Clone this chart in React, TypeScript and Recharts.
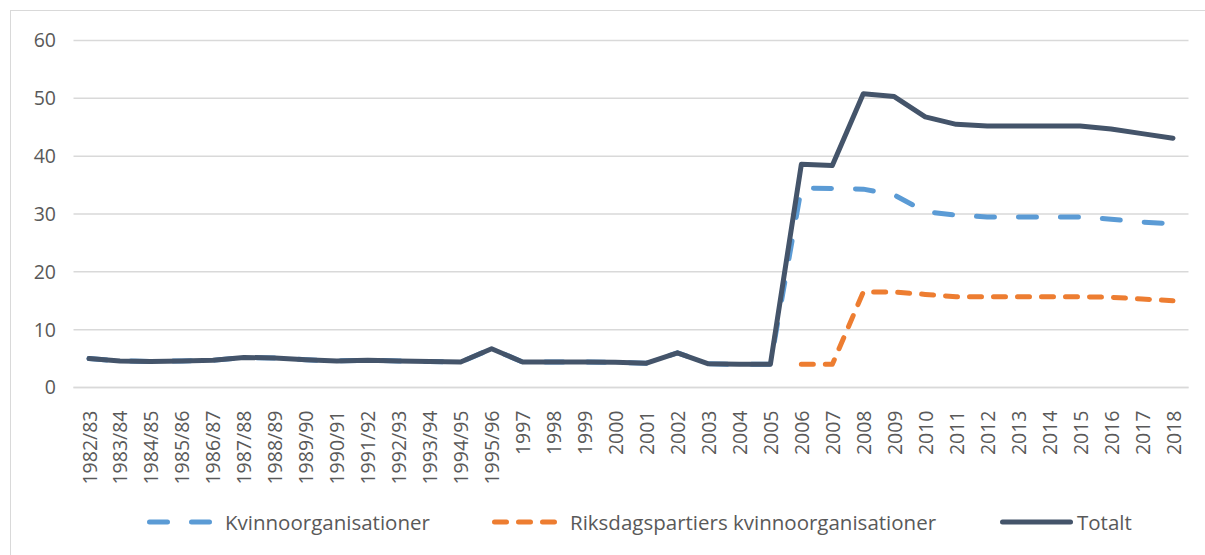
import { LineChart, Line, XAxis, YAxis, CartesianGrid } from "recharts";

const years = [
  "1982/83", "1983/84", "1984/85", "1985/86", "1986/87", "1987/88", "1988/89",
  "1989/90", "1990/91", "1991/92", "1992/93", "1993/94", "1994/95", "1995/96",
  "1997", "1998", "1999", "2000", "2001", "2002", "2003", "2004", "2005",
  "2006", "2007", "2008", "2009", "2010", "2011", "2012", "2013", "2014",
  "2015", "2016", "2017", "2018",
];

const totalt = [
  5.0, 4.6, 4.5, 4.6, 4.7, 5.2, 5.1, 4.8, 4.6, 4.7, 4.6, 4.5, 4.4, 6.7,
  4.4, 4.4, 4.4, 4.35, 4.2, 6.0, 4.1, 4.0, 4.0,
  38.6, 38.4, 50.8, 50.3, 46.8, 45.5, 45.2, 45.2, 45.2, 45.2, 44.7, 43.9, 43.1,
];

const kvinnoorg = [
  5.0, 4.6, 4.5, 4.6, 4.7, 5.2, 5.1, 4.8, 4.6, 4.7, 4.6, 4.5, 4.4, 6.7,
  4.4, 4.4, 4.4, 4.35, 4.2, 6.0, 4.1, 4.0, 4.0,
  34.5, 34.4, 34.3, 33.3, 30.4, 29.8, 29.5, 29.5, 29.5, 29.5, 29.1, 28.6, 28.3,
];

const riksdag: (number | null)[] = [
  null, null, null, null, null, null, null, null, null, null, null, null, null, null,
  null, null, null, null, null, null, null, null, null,
  4.0, 4.0, 16.5, 16.5, 16.1, 15.7, 15.7, 15.7, 15.7, 15.7, 15.6, 15.3, 15.0,
];

const yTicks = [0, 10, 20, 30, 40, 50, 60];

const data = years.map((year, i) => ({
  year,
  kvinno: kvinnoorg[i],
  riksdag: riksdag[i],
  totalt: totalt[i],
}));

const FONT = "'Open Sans', sans-serif";
const TEXT = "#595959";
const GRID = "#D9D9D9";

const BLUE = "#5B9BD5";
const ORANGE = "#ED7D31";
const NAVY = "#44546A";

function YearTick(props: any) {
  const { x, y, payload } = props;
  return (
    <text
      x={x}
      y={y + 15}
      transform={`rotate(-90, ${x}, ${y + 15})`}
      textAnchor="end"
      dominantBaseline="central"
      fill={TEXT}
      fontSize={19.5}
      fontFamily={FONT}
    >
      {payload.value}
    </text>
  );
}

const legendItems = [
  { label: "Kvinnoorganisationer", color: BLUE, dash: "18 24", left: 147, iconW: 66 },
  { label: "Riksdagspartiers kvinnoorganisationer", color: ORANGE, dash: "12 12", left: 492, iconW: 66 },
  { label: "Totalt", color: NAVY, dash: undefined, left: 1000, iconW: 73 },
];

function ChartLegend() {
  return (
    <div style={{ position: "absolute", left: 0, top: 507, width: 1205, height: 30 }}>
      {legendItems.map((item) => (
        <div
          key={item.label}
          style={{
            position: "absolute",
            left: item.left,
            top: 0,
            height: 30,
            display: "flex",
            alignItems: "center",
            gap: item.dash ? 12 : 4,
            fontFamily: FONT,
            fontSize: 20.5,
            color: TEXT,
            whiteSpace: "nowrap",
          }}
        >
          <svg width={item.iconW} height={10}>
            <line
              x1={2.5}
              y1={5}
              x2={item.iconW - 2.5}
              y2={5}
              stroke={item.color}
              strokeWidth={5}
              strokeLinecap="round"
              strokeDasharray={item.dash}
            />
          </svg>
          <span>{item.label}</span>
        </div>
      ))}
    </div>
  );
}

export default function App() {
  return (
    <div
      style={{
        position: "absolute",
        left: 0,
        top: 0,
        width: 1205,
        height: 555,
        overflow: "hidden",
        background: "#fff",
      }}
    >
      <div
        style={{
          position: "absolute",
          left: 10,
          top: 10,
          width: 1300,
          height: 700,
          border: `1.5px solid ${GRID}`,
        }}
      />
      <div style={{ position: "absolute", left: 0, top: 0 }}>
        <LineChart
          width={1205}
          height={555}
          data={data}
          margin={{ top: 40.5, right: 16.5, left: 0, bottom: 0 }}
        >
          <CartesianGrid stroke={GRID} strokeWidth={1.5} vertical={false} />
          <XAxis
            dataKey="year"
            interval={0}
            height={167.5}
            padding={{ left: 15.5, right: 15.5 }}
            axisLine={{ stroke: GRID, strokeWidth: 1.5 }}
            tickLine={false}
            tick={<YearTick />}
          />
          <YAxis
            width={73.5}
            domain={[0, 60]}
            ticks={yTicks}
            axisLine={false}
            tickLine={false}
            tickMargin={11.5}
            tick={{ fill: TEXT, fontSize: 19.5, fontFamily: FONT }}
          />
          <Line
            type="linear"
            dataKey="kvinno"
            name="Kvinnoorganisationer"
            stroke={BLUE}
            strokeWidth={5}
            strokeDasharray="18 24"
            strokeLinecap="round"
            strokeLinejoin="round"
            dot={false}
            isAnimationActive={false}
          />
          <Line
            type="linear"
            dataKey="riksdag"
            name="Riksdagspartiers kvinnoorganisationer"
            stroke={ORANGE}
            strokeWidth={5}
            strokeDasharray="12 12"
            strokeLinecap="round"
            strokeLinejoin="round"
            dot={false}
            isAnimationActive={false}
          />
          <Line
            type="linear"
            dataKey="totalt"
            name="Totalt"
            stroke={NAVY}
            strokeWidth={5}
            strokeLinecap="round"
            strokeLinejoin="round"
            dot={false}
            isAnimationActive={false}
          />
        </LineChart>
      </div>
      <ChartLegend />
    </div>
  );
}
